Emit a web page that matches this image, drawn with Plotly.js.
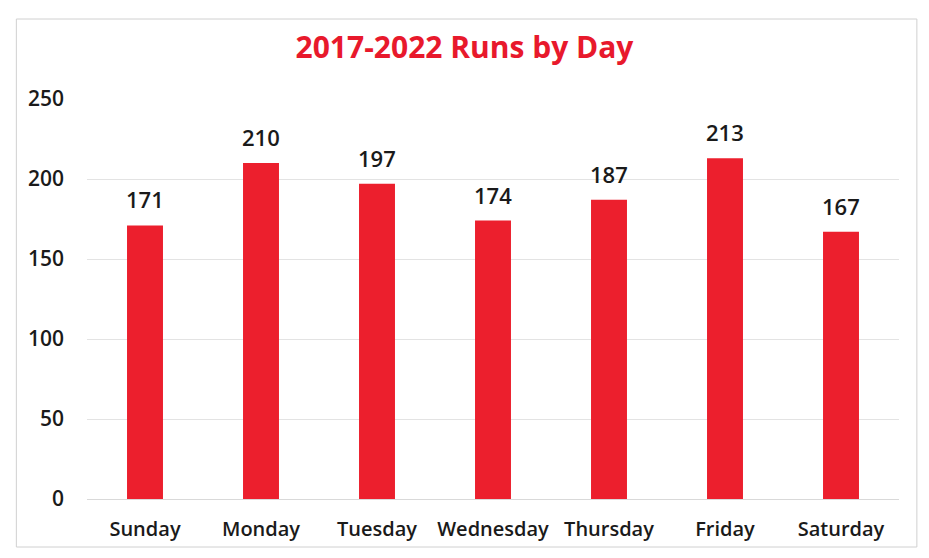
<!DOCTYPE html>
<html>
<head>
<meta charset="utf-8">
<script src="https://cdn.plot.ly/plotly-3.0.1.min.js"></script>
<style>html,body{margin:0;padding:0;background:#fff;}#chart{width:929px;height:558px;}</style>
</head>
<body>
<div id="chart"></div>
<script>
const days = ["Sunday", "Monday", "Tuesday", "Wednesday", "Thursday", "Friday", "Saturday"];
const runs = [171, 210, 197, 174, 187, 213, 167];
const yTicks = [0, 50, 100, 150, 200, 250];

const fontFam = 'Open Sans, Lato, sans-serif';

const trace = {
  type: 'bar',
  x: days,
  y: runs,
  marker: {color: '#ec1f2d'},
  hoverinfo: 'x+y'
};

const annotations = days.map((d, i) => ({
  x: d, y: runs[i], xref: 'x', yref: 'y',
  text: String(runs[i]), showarrow: false,
  yanchor: 'middle', yshift: 26,
  font: {family: fontFam, size: 22, color: '#1a1a1a', weight: 600}
}));

const layout = {
  width: 929, height: 558,
  margin: {l: 87, r: 30, t: 99, b: 59},
  paper_bgcolor: '#ffffff', plot_bgcolor: '#ffffff',
  title: {
    text: '<b>2017-2022 Runs by Day</b>',
    font: {family: fontFam, size: 30, color: '#e8192c'},
    x: 0.5, xanchor: 'center', y: 0.915, yanchor: 'middle'
  },
  bargap: 0.69,
  showlegend: false,
  annotations: annotations,
  xaxis: {
    showgrid: false, showline: true, linecolor: '#d9d9d9', linewidth: 1,
    ticks: '', ticklabelstandoff: 12,
    tickfont: {family: fontFam, size: 20, color: '#1a1a1a', weight: 600},
    fixedrange: true
  },
  yaxis: {
    range: [0, 250], tickvals: yTicks, ticktext: yTicks.map(String),
    showgrid: true, gridcolor: '#e3e3e3', gridwidth: 1,
    zeroline: false, showline: false, ticks: '', ticklabelstandoff: 22,
    tickfont: {family: fontFam, size: 21, color: '#1a1a1a', weight: 600},
    fixedrange: true
  },
  shapes: [{
    type: 'rect', xref: 'paper', yref: 'paper',
    x0: -0.087, x1: 1.022, y0: -0.12, y1: 1.2,
    line: {color: '#d0d0d0', width: 1}, fillcolor: 'rgba(0,0,0,0)', layer: 'below'
  }]
};

Plotly.newPlot('chart', [trace], layout, {displayModeBar: false, staticPlot: true});
</script>
</body>
</html>
